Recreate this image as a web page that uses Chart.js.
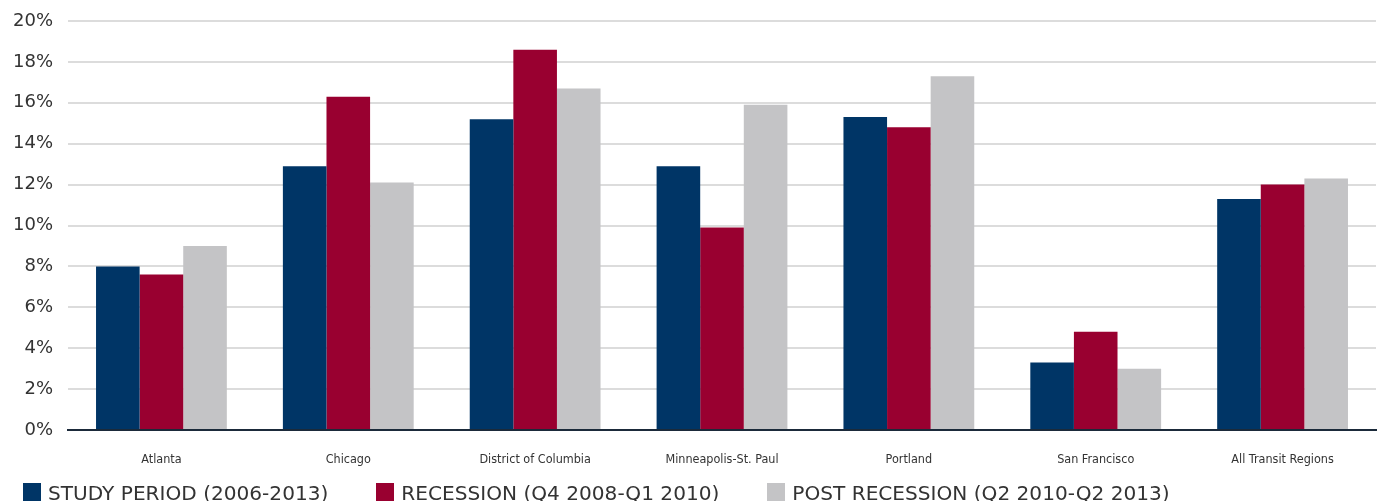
<!DOCTYPE html>
<html>
<head>
<meta charset="utf-8">
<script src="https://cdn.jsdelivr.net/npm/chart.js@4"></script>
<style>
  html, body { margin: 0; padding: 0; background: #fff; }
  #wrap { position: relative; width: 1381px; height: 501px; overflow: hidden; }
  #chart { position: absolute; left: 0; top: 0; }
  #legend { position: absolute; left: 23px; top: 483px; display: flex; white-space: nowrap;
            font-family: "DejaVu Sans", sans-serif; font-size: 20.1px; color: #333; line-height: 18px; }
  #legend .item { display: flex; align-items: flex-start; margin-right: 48px; }
  #legend .box { width: 18px; height: 18px; margin-right: 7px; flex: none; }
  #legend .txt { position: relative; top: 1px; }
</style>
</head>
<body>
<div id="wrap">
  <canvas id="chart" width="1381" height="501"></canvas>
  <div id="legend"></div>
</div>
<script>
// Share of jobs by region, per period (percent)
const regions = ["Atlanta", "Chicago", "District of Columbia", "Minneapolis-St. Paul", "Portland", "San Francisco", "All Transit Regions"];
const seriesNames = ["STUDY PERIOD (2006-2013)", "RECESSION (Q4 2008-Q1 2010)", "POST RECESSION (Q2 2010-Q2 2013)"];
const studyPeriod = [8.0, 12.9, 15.2, 12.9, 15.3, 3.3, 11.3];
const recession = [7.6, 16.3, 18.6, 9.9, 14.8, 4.8, 12.0];
const postRecession = [9.0, 12.1, 16.7, 15.9, 17.3, 3.0, 12.3];
const yTicks = [0, 2, 4, 6, 8, 10, 12, 14, 16, 18, 20];
const colors = ["#003566", "#990030", "#c4c4c6"];

const seriesValues = [studyPeriod, recession, postRecession];
const datasets = seriesNames.map((name, i) => ({
  label: name,
  data: seriesValues[i],
  backgroundColor: colors[i],
  borderWidth: 0,
  categoryPercentage: 0.7,
  barPercentage: 1.0
}));

new Chart(document.getElementById("chart"), {
  type: "bar",
  data: { labels: regions, datasets },
  options: {
    responsive: false,
    animation: false,
    layout: { padding: { top: 21, right: 5, left: 0, bottom: 0 } },
    plugins: { legend: { display: false }, tooltip: { enabled: false } },
    scales: {
      x: {
        grid: { display: false, drawTicks: false },
        border: { display: true, color: "#1b2a3a", width: 2 },
        ticks: {
          padding: 22,
          color: "#333",
          font: { family: "'Liberation Sans Narrow', 'DejaVu Sans Condensed', sans-serif", size: 12.5 }
        },
        afterFit(scale) { scale.height = 71; scale.paddingLeft = 0; scale.paddingRight = 0; }
      },
      y: {
        min: 0, max: 20,
        afterBuildTicks(scale) { scale.ticks = yTicks.map(v => ({ value: v })); },
        grid: { color: "#dcdcdc", lineWidth: 2, drawTicks: false },
        border: { display: false },
        ticks: {
          padding: 15,
          color: "#333",
          font: { family: "'DejaVu Sans', sans-serif", size: 18 },
          callback: v => v + "%"
        },
        afterFit(scale) { scale.width = 68; scale.paddingTop = 0; scale.paddingBottom = 0; }
      }
    }
  }
});

// Legend row
const legend = document.getElementById("legend");
seriesNames.forEach((name, i) => {
  const item = document.createElement("div");
  item.className = "item";
  const box = document.createElement("span");
  box.className = "box";
  box.style.background = colors[i];
  const txt = document.createElement("span");
  txt.className = "txt";
  txt.textContent = name;
  item.appendChild(box);
  item.appendChild(txt);
  legend.appendChild(item);
});
</script>
</body>
</html>
